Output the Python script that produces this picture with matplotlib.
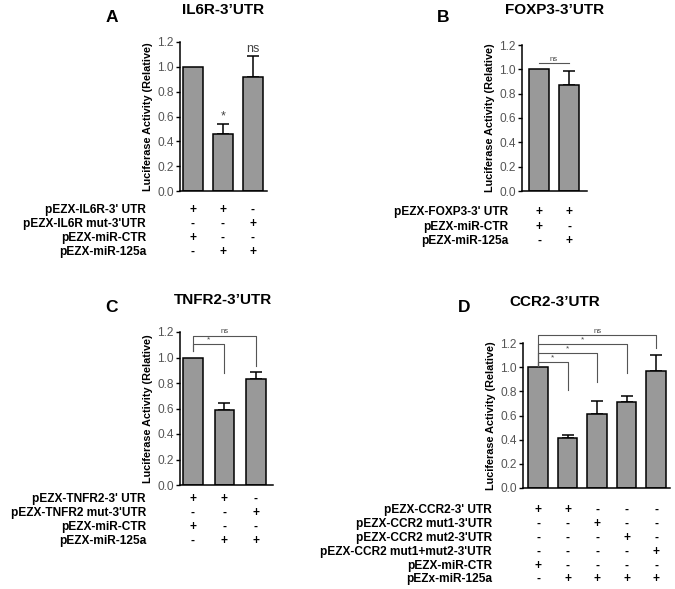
import numpy as np
import matplotlib
matplotlib.use("Agg")
import matplotlib.pyplot as plt
import matplotlib.transforms as mtrans

plt.rcParams.update({
    "font.family": ["Liberation Sans", "DejaVu Sans"],
    "axes.linewidth": 1.1,
})

W, H = 675, 589

# ---- data -------------------------------------------------------------
A_vals = [1.0, 0.46, 0.92]
A_err = [0.0, 0.08, 0.17]
A_rows = ["pEZX-IL6R-3' UTR", "pEZX-IL6R mut-3'UTR", "pEZX-miR-CTR", "pEZX-miR-125a"]
A_signs = [["+", "+", "-"], ["-", "-", "+"], ["+", "-", "-"], ["-", "+", "+"]]

B_vals = [1.0, 0.87]
B_err = [0.0, 0.12]
B_rows = ["pEZX-FOXP3-3' UTR", "pEZX-miR-CTR", "pEZX-miR-125a"]
B_signs = [["+", "+"], ["+", "-"], ["-", "+"]]

C_vals = [1.0, 0.59, 0.83]
C_err = [0.0, 0.05, 0.06]
C_rows = ["pEZX-TNFR2-3' UTR", "pEZX-TNFR2 mut-3'UTR", "pEZX-miR-CTR", "pEZX-miR-125a"]
C_signs = [["+", "+", "-"], ["-", "-", "+"], ["+", "-", "-"], ["-", "+", "+"]]

D_vals = [1.0, 0.41, 0.61, 0.71, 0.97]
D_err = [0.0, 0.025, 0.11, 0.05, 0.13]
D_rows = ["pEZX-CCR2-3' UTR", "pEZX-CCR2 mut1-3'UTR", "pEZX-CCR2 mut2-3'UTR",
          "pEZX-CCR2 mut1+mut2-3'UTR", "pEZX-miR-CTR", "pEZx-miR-125a"]
D_signs = [["+", "+", "-", "-", "-"], ["-", "-", "+", "-", "-"], ["-", "-", "-", "+", "-"],
           ["-", "-", "-", "-", "+"], ["+", "-", "-", "-", "-"], ["-", "+", "+", "+", "+"]]

# brackets: (target bar, line height, left-leg bottom, right-leg bottom, label)
C_brackets = [(1, 1.105, 1.05, 0.88, "*"), (2, 1.17, 1.05, 0.93, "ns")]
D_brackets = [(1, 1.04, 1.01, 0.81, "*"), (2, 1.12, 1.01, 0.88, "*"),
              (3, 1.19, 1.01, 0.95, "*"), (4, 1.265, 1.01, 1.16, "ns")]

fig = plt.figure(figsize=(W / 100, H / 100), dpi=100)
fig.patch.set_facecolor("white")


def make_ax(x0, x1, ytop, ybot, xlim):
    ax = fig.add_axes([x0 / W, 1 - ybot / H, (x1 - x0) / W, (ybot - ytop) / H])
    ax.set_xlim(*xlim)
    ax.set_ylim(0, 1.2)
    ax.set_yticks([0.0, 0.2, 0.4, 0.6, 0.8, 1.0, 1.2])
    ax.set_yticklabels(["0.0", "0.2", "0.4", "0.6", "0.8", "1.0", "1.2"])
    ax.set_xticks([])
    ax.spines["top"].set_visible(False)
    ax.spines["right"].set_visible(False)
    ax.tick_params(axis="y", length=3, width=1.0, labelsize=8.6, labelcolor="#555555", pad=1.5)
    ax.set_ylabel("Luciferase Activity (Relative)", fontsize=7.8, fontweight="bold", labelpad=3)
    ax.set_facecolor("none")
    return ax


def draw_bars(ax, vals, err, width):
    x = np.arange(len(vals))
    ax.bar(x, vals, width=width, color="#999999", edgecolor="black", linewidth=1.1, zorder=2)
    e = np.array(err)
    m = e > 0
    ax.errorbar(x[m], np.array(vals)[m], yerr=[np.zeros(m.sum()), e[m]], fmt="none",
                ecolor="black", elinewidth=1.1, capsize=4, capthick=1.1, zorder=1)


def draw_table(ax, rows, signs, ys, xr):
    tr = mtrans.blended_transform_factory(ax.transData, fig.transFigure)
    for row, sg, y in zip(rows, signs, ys):
        fig.text(xr / W, 1 - y / H, row, ha="right", va="center", fontsize=8.6, fontweight="bold")
        for i, s in enumerate(sg):
            ax.text(i, 1 - y / H, s, transform=tr, ha="center", va="center",
                    fontsize=8.6, fontweight="bold")


def draw_brackets(ax, brackets):
    # all comparisons start from the control bar (index 0)
    for tgt, h, lb, rb, lab in brackets:
        ax.plot([0, 0, tgt, tgt], [lb, h, h, rb], color="#555555", lw=0.8, clip_on=False)
        ax.text(tgt / 2, h + 0.005, lab, ha="center", va="bottom",
                fontsize=5.5 if lab == "ns" else 6, color="#444444")


def heading(x, y, s, letter_xy, letter):
    fig.text(x / W, 1 - y / H, s, ha="center", va="center", fontsize=11, fontweight="bold")
    fig.text(letter_xy[0] / W, 1 - letter_xy[1] / H, letter, ha="center", va="center",
             fontsize=12.5, fontweight="bold")


# ---- A ----
axA = make_ax(180, 267, 42, 191, (-0.433, 2.467))
draw_bars(axA, A_vals, A_err, 0.67)
axA.text(1, A_vals[1] + A_err[1] + 0.01, "*", ha="center", va="bottom", fontsize=9, color="#444444")
axA.text(2, A_vals[2] + A_err[2] + 0.005, "ns", ha="center", va="bottom", fontsize=9, color="#444444")
draw_table(axA, A_rows, A_signs, [210, 224, 238, 252], 146)
heading(223, 10, "IL6R-3\u2019UTR", (112, 17), "A")

# ---- B ----
axB = make_ax(522, 587, 45, 191, (-0.567, 1.6))
draw_bars(axB, B_vals, B_err, 0.67)
axB.plot([0, 1], [1.05, 1.05], color="#555555", lw=0.8)
axB.text(0.5, 1.055, "ns", ha="center", va="bottom", fontsize=5.5, color="#444444")
draw_table(axB, B_rows, B_signs, [212, 227, 241], 508)
heading(555, 10, "FOXP3-3\u2019UTR", (443, 17), "B")

# ---- C ----
axC = make_ax(180, 273, 332, 485, (-0.41, 2.54))
draw_bars(axC, C_vals, C_err, 0.63)
draw_brackets(axC, C_brackets)
draw_table(axC, C_rows, C_signs, [499, 513, 527, 541], 146)
heading(223, 300, "TNFR2-3\u2019UTR", (112, 307), "C")

# ---- D ----
axD = make_ax(523, 670, 343, 488, (-0.51, 4.47))
draw_bars(axD, D_vals, D_err, 0.66)
draw_brackets(axD, D_brackets)
draw_table(axD, D_rows, D_signs, [510, 524, 538, 552, 566, 579], 492)
heading(555, 302, "CCR2-3\u2019UTR", (464, 307), "D")

fig.savefig("out.png", dpi=100, facecolor="white")
